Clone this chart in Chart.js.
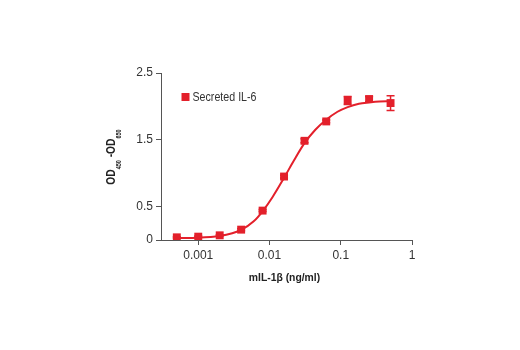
<!DOCTYPE html>
<html>
<head>
<meta charset="utf-8">
<script src="https://cdn.jsdelivr.net/npm/chart.js@4"></script>
<style>
  html, body { margin: 0; padding: 0; background: #fff; }
  #wrap { width: 520px; height: 350px; }
</style>
</head>
<body>
<div id="wrap"><canvas id="doseChart" width="520" height="350"></canvas></div>
<script>
// mIL-1β dose (ng/ml), 2-fold dilutions
const doses = [0.0005, 0.001, 0.002, 0.004, 0.008, 0.016, 0.031, 0.0625, 0.125, 0.25, 0.5];
// OD450 - OD650 readings
const odValues = [0.04, 0.05, 0.07, 0.155, 0.44, 0.95, 1.485, 1.775, 2.09, 2.11, 2.05];
const odErrors = [0.01, 0.01, 0.01, 0.015, 0.015, 0.02, 0.03, 0.02, 0.06, 0.04, 0.11];

// fitted curve
const fitDoses = [0.0005, 0.001, 0.002, 0.003, 0.004, 0.006, 0.008, 0.011, 0.016, 0.022, 0.031, 0.044, 0.0625, 0.09, 0.125, 0.18, 0.25, 0.35, 0.5];
const fitValues = [0.03, 0.035, 0.06, 0.10, 0.15, 0.28, 0.43, 0.64, 0.93, 1.19, 1.45, 1.65, 1.80, 1.92, 1.99, 2.04, 2.06, 2.075, 2.08];

const xTicks = [0.001, 0.01, 0.1, 1];
const xTickLabels = ['0.001', '0.01', '0.1', '1'];
const yTicks = [0, 0.5, 1.5, 2.5];
const yTickLabels = ['0', '0.5', '1.5', '2.5'];

const seriesLabel = 'Secreted IL-6';
const red = '#e3202b';
const axisColor = '#555';
const textColor = '#333';
const sans = "'Liberation Sans', Arial, sans-serif";

// squeeze canvas text horizontally to get a condensed look
function narrowText(ctx, text, x, y, squeeze) {
  ctx.save();
  ctx.translate(x, y);
  ctx.scale(squeeze, 1);
  ctx.fillText(text, 0, 0);
  ctx.restore();
}

// error bars drawn through the chart scales
const errorBars = {
  id: 'errorBars',
  afterDatasetsDraw(chart) {
    const { ctx, scales: { x, y } } = chart;
    ctx.save();
    ctx.strokeStyle = red;
    ctx.lineWidth = 1.5;
    doses.forEach((d, i) => {
      const px = x.getPixelForValue(d);
      const top = y.getPixelForValue(odValues[i] + odErrors[i]);
      const bot = y.getPixelForValue(odValues[i] - odErrors[i]);
      ctx.beginPath();
      ctx.moveTo(px, top); ctx.lineTo(px, bot);
      ctx.moveTo(px - 4, top); ctx.lineTo(px + 4, top);
      ctx.moveTo(px - 4, bot); ctx.lineTo(px + 4, bot);
      ctx.stroke();
    });
    ctx.restore();
  }
};

// legend inside the plot area, plus axis titles
const labels = {
  id: 'labels',
  afterDraw(chart) {
    const { ctx, chartArea } = chart;
    ctx.save();
    // legend
    ctx.fillStyle = red;
    ctx.fillRect(chartArea.left + 20.5, 93, 8, 8);
    ctx.fillStyle = textColor;
    ctx.font = '13px ' + sans;
    ctx.textBaseline = 'middle';
    ctx.textAlign = 'left';
    narrowText(ctx, seriesLabel, chartArea.left + 31.5, 97.5, 0.82);

    // x title
    ctx.font = 'bold 11.5px ' + sans;
    ctx.fillStyle = '#222';
    ctx.textAlign = 'center';
    narrowText(ctx, 'mIL-1β (ng/ml)', (chartArea.left + chartArea.right) / 2 - 2, 278, 0.9);

    // y title with subscripts
    const parts = [
      { t: 'OD', sub: false }, { t: '450', sub: true },
      { t: ' -OD', sub: false }, { t: '650', sub: true }
    ];
    const mainFont = 'bold 12px ' + sans;
    const subFont = 'bold 6.5px ' + sans;
    const squeeze = 0.85;
    let total = 0;
    parts.forEach(p => {
      ctx.font = p.sub ? subFont : mainFont;
      p.w = ctx.measureText(p.t).width * squeeze;
      total += p.w;
    });
    ctx.translate(112, 157);
    ctx.rotate(-Math.PI / 2);
    ctx.textAlign = 'left';
    ctx.textBaseline = 'middle';
    let pos = -total / 2;
    parts.forEach(p => {
      ctx.font = p.sub ? subFont : mainFont;
      narrowText(ctx, p.t, pos, p.sub ? 7 : 0, squeeze);
      pos += p.w;
    });
    ctx.restore();
  }
};

new Chart(document.getElementById('doseChart'), {
  type: 'scatter',
  data: {
    datasets: [
      {
        label: seriesLabel,
        data: doses.map((d, i) => ({ x: d, y: odValues[i] })),
        showLine: false,
        pointStyle: 'rect',
        pointRadius: 5.6,
        backgroundColor: red,
        borderColor: red,
        borderWidth: 0,
        order: 0
      },
      {
        label: 'fit',
        data: fitDoses.map((d, i) => ({ x: d, y: fitValues[i] })),
        showLine: true,
        cubicInterpolationMode: 'monotone',
        pointRadius: 0,
        borderColor: red,
        borderWidth: 2,
        fill: false,
        order: 1
      }
    ]
  },
  options: {
    responsive: false,
    animation: false,
    layout: { padding: { top: 73, right: 108, left: 0, bottom: 0 } },
    plugins: {
      legend: { display: false },
      tooltip: { enabled: false }
    },
    scales: {
      x: {
        type: 'logarithmic',
        min: 0.00033,
        max: 1,
        afterBuildTicks: scale => { scale.ticks = xTicks.map(v => ({ value: v })); },
        afterFit: scale => { scale.height = 110; },
        grid: { drawOnChartArea: false, drawTicks: true, tickLength: 5, color: axisColor, lineWidth: 1 },
        border: { display: true, color: axisColor, width: 1 },
        ticks: {
          autoSkip: false,
          maxRotation: 0,
          padding: 3,
          color: textColor,
          font: { family: sans, size: 12 },
          callback: v => xTickLabels[xTicks.indexOf(v)]
        }
      },
      y: {
        min: 0,
        max: 2.5,
        afterBuildTicks: scale => { scale.ticks = yTicks.map(v => ({ value: v })); },
        afterFit: scale => { scale.width = 161; },
        grid: { drawOnChartArea: false, drawTicks: true, tickLength: 5, color: axisColor, lineWidth: 1 },
        border: { display: true, color: axisColor, width: 1 },
        ticks: {
          padding: 3,
          color: textColor,
          font: { family: sans, size: 12 },
          callback: v => yTickLabels[yTicks.indexOf(v)]
        }
      }
    }
  },
  plugins: [errorBars, labels]
});
</script>
</body>
</html>
